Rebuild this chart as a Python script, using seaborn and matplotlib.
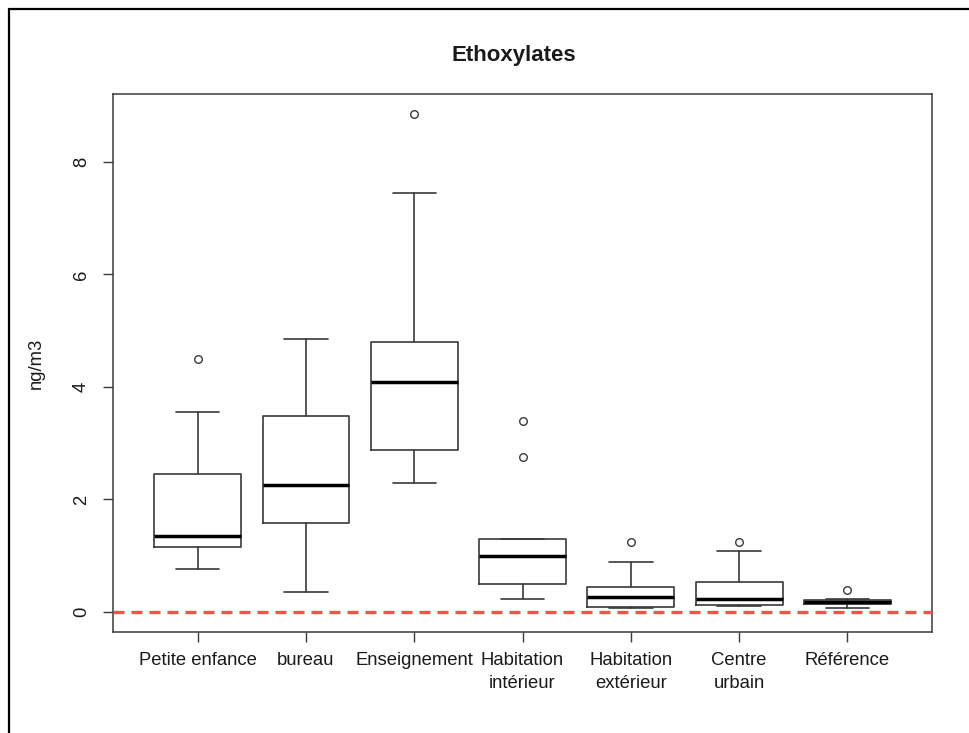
import matplotlib
matplotlib.use("Agg")
import matplotlib.pyplot as plt
from matplotlib.lines import Line2D
import seaborn as sns
import pandas as pd

categories = ["Petite enfance", "bureau", "Enseignement", "Habitation\nintérieur",
              "Habitation\nextérieur", "Centre\nurbain", "Référence"]
medians = [1.36, 2.25, 4.08, 1.00, 0.27, 0.23, 0.18]
q1 = [1.15, 1.59, 2.88, 0.50, 0.094, 0.13, 0.15]
q3 = [2.45, 3.48, 4.79, 1.30, 0.44, 0.53, 0.21]
whisker_low = [0.76, 0.36, 2.30, 0.24, 0.065, 0.107, 0.08]
whisker_high = [3.55, 4.85, 7.45, 1.30, 0.89, 1.09, 0.24]
outliers = [[4.50], [], [8.85], [3.40, 2.76], [1.24], [1.24], [0.40]]
yticks = [0, 2, 4, 6, 8]
title = "Ethoxylates"
ylabel = "ng/m3"

sns.set_style("white")
plt.rcParams["font.family"] = ["Liberation Sans", "DejaVu Sans"]

fig = plt.figure(figsize=(9.69, 7.33), dpi=100)
W, H = 969, 733
ax = fig.add_axes([113 / W, 1 - 632 / H, (932 - 113) / W, (632 - 94) / H])

line_col = "#3a3a3a"
stats = []
for i, c in enumerate(categories):
    stats.append(dict(label=c, med=medians[i], q1=q1[i], q3=q3[i],
                      whislo=whisker_low[i], whishi=whisker_high[i], fliers=[]))
positions = list(range(1, len(categories) + 1))
ax.bxp(stats, positions=positions, widths=0.8, showfliers=False,
       boxprops=dict(color=line_col, linewidth=1.2),
       whiskerprops=dict(color=line_col, linewidth=1.2, linestyle="-"),
       capprops=dict(color=line_col, linewidth=1.2),
       medianprops=dict(color="black", linewidth=2.5),
       capwidths=0.4)

out_x, out_y = [], []
for i, vals in enumerate(outliers):
    for v in vals:
        out_x.append(positions[i])
        out_y.append(v)
df_out = pd.DataFrame({"x": out_x, "y": out_y})
sns.scatterplot(data=df_out, x="x", y="y", ax=ax, marker="o", s=30,
                facecolor="white", edgecolor=line_col, linewidth=1.0, zorder=3)

ax.axhline(0, color="#ff4d4d", linewidth=2.4, linestyle=(0, (3.3, 2.1)), zorder=4)

ax.set_xlim(0.22, 7.78)
ax.set_ylim(-0.354, 9.204)
ax.set_xticks(positions)
ax.set_xticklabels(categories, fontsize=13.3, color="#1a1a1a", linespacing=1.45)
ax.set_yticks(yticks)
ax.set_yticklabels([str(t) for t in yticks], fontsize=13.3, color="#1a1a1a",
                   rotation=90, va="center")
ax.tick_params(axis="both", direction="out", length=7.5, width=1.0, color=line_col,
               bottom=True, left=True)
ax.tick_params(axis="x", pad=7)
ax.tick_params(axis="y", pad=9)
for s in ax.spines.values():
    s.set_color(line_col)
    s.set_linewidth(1.1)
    s.set_visible(True)

ax.set_xlabel("")
ax.set_ylabel(ylabel, fontsize=13.3, color="#1a1a1a")
ax.yaxis.set_label_coords((45 - 113) / (932 - 113), 0.5)
fig.text(514 / W, 1 - 56 / H, title, fontsize=16, fontweight="bold",
         ha="center", va="center", color="#1a1a1a")

# outer frame (left and top edges)
fig.add_artist(Line2D([8.5 / W, 8.5 / W], [0, 1 - 8.5 / H], transform=fig.transFigure,
                      color="black", linewidth=1.6))
fig.add_artist(Line2D([8.5 / W, 1], [1 - 8.5 / H, 1 - 8.5 / H], transform=fig.transFigure,
                      color="black", linewidth=1.6))

fig.savefig("out.png", dpi=100, facecolor="white")
